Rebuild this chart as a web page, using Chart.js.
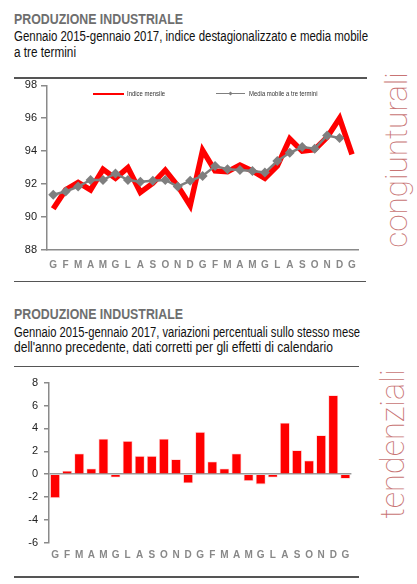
<!DOCTYPE html>
<html><head><meta charset="utf-8">
<script src="https://cdn.jsdelivr.net/npm/chart.js@4/dist/chart.umd.min.js"></script>
<style>
html,body{margin:0;padding:0;background:#fff;width:417px;height:584px;overflow:hidden;}
body{position:relative;font-family:"Liberation Sans",Arial,sans-serif;}
.t{position:absolute;left:14px;white-space:nowrap;transform-origin:0 0;}
.title{font-weight:bold;font-size:14px;line-height:16px;color:#6e6e6e;}
.sub{font-size:14px;line-height:15.5px;color:#111;}
.rule{position:absolute;left:14px;height:1.5px;background:#555;}
.vert{position:absolute;font-family:Roboto,"Open Sans",sans-serif;font-weight:100;font-size:31.5px;color:#c87474;white-space:nowrap;transform:translate(-50%,-50%) rotate(-90deg);line-height:1;}
canvas{position:absolute;left:0;}
.lg{position:absolute;font-size:7px;color:#333;white-space:nowrap;line-height:8px;transform-origin:0 50%;transform:scaleX(0.85);}
</style></head>
<body>
<div class="t title" data-w="169" style="top:10.5px">PRODUZIONE INDUSTRIALE</div>
<div class="t sub" data-w="354" style="top:29px">Gennaio 2015-gennaio 2017, indice destagionalizzato e media mobile</div>
<div class="t sub" data-w="62" style="top:44.6px">a tre termini</div>
<div class="rule" style="top:77px;width:353px"></div>
<div class="rule" style="top:280.5px;width:352px"></div>
<div class="vert" style="left:397px;top:160px">congiunturali</div>

<div class="t title" data-w="169" style="top:305.5px">PRODUZIONE INDUSTRIALE</div>
<div class="t sub" data-w="346" style="top:324.5px">Gennaio 2015-gennaio 2017, variazioni percentuali sullo stesso mese</div>
<div class="t sub" data-w="319" style="top:340px">dell'anno precedente, dati corretti per gli effetti di calendario</div>
<div class="rule" style="top:365.5px;width:345px"></div>
<div class="rule" style="top:576px;width:345px"></div>
<div class="vert" style="left:393px;top:444px;font-size:32.5px">tendenziali</div>

<canvas id="c1" width="365" height="205" style="top:70px"></canvas>
<canvas id="c2" width="360" height="205" style="top:370px"></canvas>
<div id="legend"></div>

<script>
const months = ['G','F','M','A','M','G','L','A','S','O','N','D','G','F','M','A','M','G','L','A','S','O','N','D','G'];
const indiceMensile = [90.5,91.65,92.1,91.65,92.9,92.35,93.0,91.5,92.05,92.85,91.9,90.7,94.05,92.8,92.75,93.15,92.8,92.35,93.1,94.75,94.0,94.1,94.85,96.0,93.8];
const mediaMobile = [91.35,91.55,91.85,92.25,92.25,92.65,92.25,92.15,92.2,92.25,91.85,92.2,92.5,93.1,92.9,92.85,92.8,92.7,93.4,93.9,94.25,94.15,94.95,94.8,null];
const variazioni = [-2.1,0.3,1.8,0.5,3.1,-0.3,2.9,1.6,1.6,3.1,1.3,-0.8,3.7,1.1,0.5,1.8,-0.6,-0.9,-0.3,4.5,2.1,1.2,3.4,6.9,-0.4];
const topTicks = [88,90,92,94,96,98];
const bottomTicks = [-6,-4,-2,0,2,4,6,8];

// condense text lines to the reference widths
document.querySelectorAll('.t[data-w]').forEach(el=>{
  const w = el.getBoundingClientRect().width;
  const target = parseFloat(el.dataset.w);
  if (w>0) el.style.transform = 'scaleX('+(target/w)+')';
});

const FONT = '"Liberation Sans",Arial,sans-serif';
Chart.defaults.font.family = FONT;

function setTicks(arr){ return function(scale){ scale.ticks = arr.map(v=>({value:v})); }; }

const xLabelFont = {family:FONT, size:10, weight:'bold'};
const yLabelFont = {family:FONT, size:11};

const c1 = new Chart(document.getElementById('c1'), {
  type:'line',
  data:{labels:months, datasets:[
    {label:'Media mobile a tre termini', data:mediaMobile, borderColor:'#7f7f7f', backgroundColor:'#7f7f7f', borderWidth:2.5,
     pointStyle:'rectRot', pointRadius:5, pointBorderWidth:0, pointBackgroundColor:'#7f7f7f', tension:0, order:1},
    {label:'Indice mensile', data:indiceMensile, borderColor:'#ff0000', borderWidth:5.5, pointRadius:0, tension:0,
     borderJoinStyle:'miter', order:2}
  ]},
  options:{
    responsive:false, animation:false, devicePixelRatio:1,
    layout:{padding:{top:15.3,right:3.7,left:0,bottom:0}},
    plugins:{legend:{display:false}, tooltip:{enabled:false}},
    scales:{
      x:{offset:true, grid:{display:false, drawTicks:false}, border:{display:true,color:'#8a8a8a',width:1.5},
         ticks:{font:xLabelFont, color:'#888', padding:9, maxRotation:0, autoSkip:false},
         afterFit:s=>{s.height=25;}},
      y:{min:88,max:98, afterBuildTicks:setTicks(topTicks),
         grid:{drawOnChartArea:false, drawTicks:true, tickLength:6, color:'#8a8a8a', lineWidth:1.5},
         border:{display:true,color:'#8a8a8a',width:1.5},
         ticks:{font:yLabelFont, color:'#222', padding:4},
         afterFit:s=>{s.width=47;}}
    }
  }
});

const c2 = new Chart(document.getElementById('c2'), {
  type:'bar',
  data:{labels:months, datasets:[
    {label:'Variazioni tendenziali', data:variazioni, backgroundColor:'#ff0000', borderColor:'rgba(255,140,140,0.45)', borderWidth:0.8,
     barPercentage:0.82, categoryPercentage:1}
  ]},
  options:{
    responsive:false, animation:false, devicePixelRatio:1,
    layout:{padding:{top:12.7,right:8.6,left:0,bottom:0}},
    plugins:{legend:{display:false}, tooltip:{enabled:false}},
    scales:{
      x:{grid:{display:false, drawTicks:false}, border:{display:false},
         ticks:{font:xLabelFont, color:'#888', padding:7, maxRotation:0, autoSkip:false},
         afterFit:s=>{s.height=32.3;}},
      y:{min:-6,max:8, afterBuildTicks:setTicks(bottomTicks),
         grid:{drawOnChartArea:true, drawTicks:true, tickLength:5, lineWidth:1.5,
               color:ctx=> (ctx.tick && ctx.tick.value===0) ? '#999' : 'rgba(0,0,0,0)', tickColor:'#8a8a8a'},
         border:{display:true,color:'#8a8a8a',width:1.5},
         ticks:{font:yLabelFont, color:'#222', padding:6},
         afterFit:s=>{s.width=49;}}
    }
  }
});

// legend built from the line chart's datasets
(function(){
  const lg = document.getElementById('legend');
  const red = c1.data.datasets[1], gray = c1.data.datasets[0];
  lg.innerHTML =
    '<div style="position:absolute;left:93px;top:93px;width:31px;height:1.5px;background:'+red.borderColor+'"></div>'+
    '<div class="lg" style="left:127px;top:89.5px">'+red.label+'</div>'+
    '<div style="position:absolute;left:216px;top:93px;width:29px;height:1px;background:'+gray.borderColor+'"></div>'+
    '<div style="position:absolute;left:228.5px;top:91.5px;width:3px;height:3px;background:'+gray.borderColor+';transform:rotate(45deg)"></div>'+
    '<div class="lg" style="left:249px;top:89.5px">'+gray.label+'</div>';
})();
</script>
</body></html>
